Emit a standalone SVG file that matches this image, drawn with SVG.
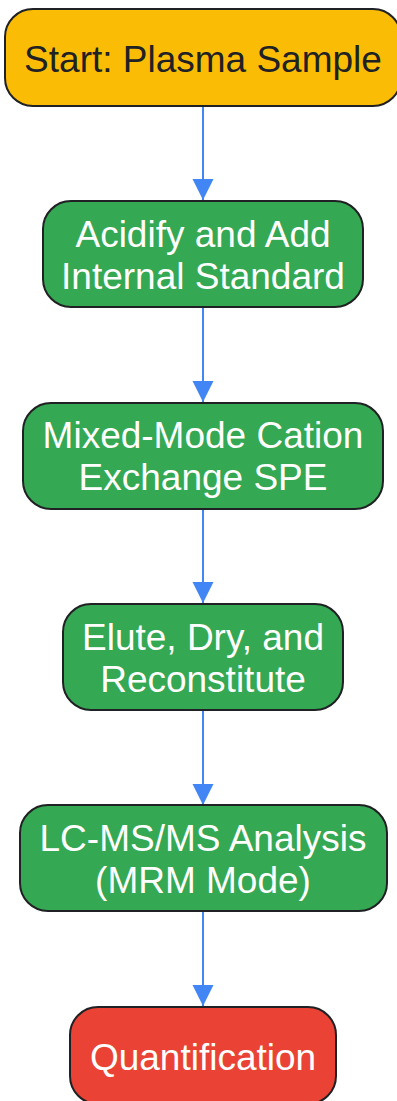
<svg xmlns="http://www.w3.org/2000/svg" width="397" height="1101" viewBox="0 0 397 1101">
<style>
.n{stroke:#202124;stroke-width:2}
.y{fill:#FBBC05}.g{fill:#34A853}.r{fill:#EA4335}
text{font-family:"Liberation Sans",Arial,sans-serif;font-size:37px;text-anchor:middle}
.dk{fill:#202124}.wt{fill:#FFFFFF}
.e{stroke:#4285F4;stroke-width:2;fill:none}
</style>
<defs>
<marker id="ah" markerWidth="21" markerHeight="31" refX="21" refY="10.5" orient="auto" markerUnits="userSpaceOnUse">
<path d="M0,0 L21,10.5 L0,21 Z" fill="#4285F4"/>
</marker>
</defs>
<g id="connectors">
<path class="e" d="M203,106 L203,200" marker-end="url(#ah)"/>
<path class="e" d="M203,307 L203,402" marker-end="url(#ah)"/>
<path class="e" d="M203,509 L203,603" marker-end="url(#ah)"/>
<path class="e" d="M203,710 L203,805" marker-end="url(#ah)"/>
<path class="e" d="M203,912 L203,1006" marker-end="url(#ah)"/>
</g>
<g id="n1">
<rect class="n y" x="5" y="9" width="396" height="97" rx="28"/>
<text class="dk" x="203" y="72">Start: Plasma Sample</text>
</g>
<g id="n2">
<rect class="n g" x="43" y="201" width="320" height="106" rx="28"/>
<text class="wt" x="203" y="247">Acidify and Add</text>
<text class="wt" x="203" y="289">Internal Standard</text>
</g>
<g id="n3">
<rect class="n g" x="23" y="403" width="360" height="106" rx="28"/>
<text class="wt" x="203" y="448">Mixed-Mode Cation</text>
<text class="wt" x="203" y="490">Exchange SPE</text>
</g>
<g id="n4">
<rect class="n g" x="63" y="604" width="280" height="106" rx="28"/>
<text class="wt" x="203" y="650">Elute, Dry, and</text>
<text class="wt" x="203" y="692">Reconstitute</text>
</g>
<g id="n5">
<rect class="n g" x="20" y="805" width="367" height="106" rx="28"/>
<text class="wt" x="203" y="851">LC-MS/MS Analysis</text>
<text class="wt" x="203" y="893">(MRM Mode)</text>
</g>
<g id="n6">
<rect class="n r" x="70" y="1007" width="266" height="97" rx="28"/>
<text class="wt" x="203" y="1070">Quantification</text>
</g>
</svg>
